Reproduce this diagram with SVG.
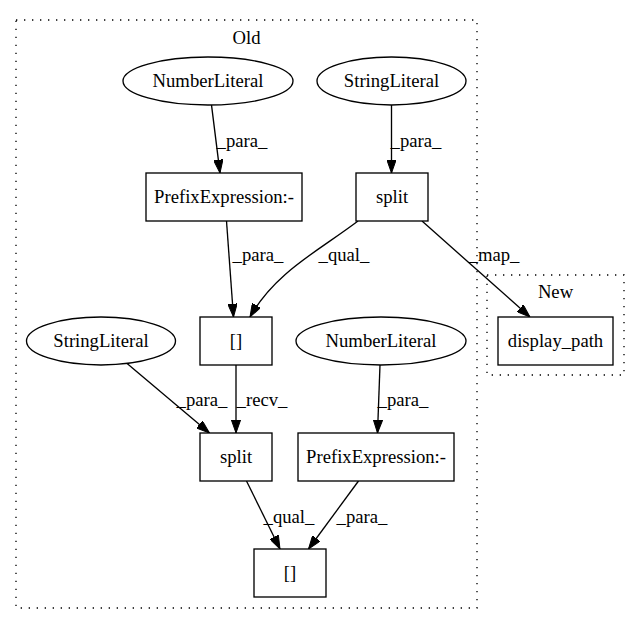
<svg xmlns="http://www.w3.org/2000/svg" width="640" height="624" viewBox="0 0 640 624">
<style>
text{font-family:"Liberation Serif","Times New Roman",serif;font-size:18.67px;fill:#000;text-anchor:middle}
.cl{fill:none;stroke:#000;stroke-width:1.33;stroke-dasharray:1.33 6.67}
.n{fill:#fff;stroke:#000;stroke-width:1.33}
.e{fill:none;stroke:#000;stroke-width:1.33;marker-end:url(#ah)}
</style>
<defs>
<marker id="ah" viewBox="0 0 13.3 9.4" refX="13.3" refY="4.7" markerWidth="13.3" markerHeight="9.4" orient="auto" markerUnits="userSpaceOnUse">
<path d="M0,0 L13.3,4.7 L0,9.4 Z" fill="#000" stroke="#000" stroke-width="1"/>
</marker>
</defs>
<rect width="640" height="624" fill="#fff"/>
<g id="cluster_old">
<rect class="cl" x="16" y="20" width="461" height="588"/>
<text x="246.5" y="44">Old</text>
</g>
<g id="cluster_new">
<rect class="cl" x="487" y="275" width="137" height="100"/>
<text x="555.5" y="298">New</text>
</g>
<g id="connectors">
<path class="e" d="M211.5,105 L220,173"/>
<text x="242" y="147">_para_</text>
<path class="e" d="M391.5,105 L391.5,173"/>
<text x="416" y="147">_para_</text>
<path class="e" d="M226.5,221 L233.5,317"/>
<text x="258" y="261">_para_</text>
<path class="e" d="M358,221 C320,250 275,272 250,317"/>
<text x="344" y="261">_qual_</text>
<path class="e" d="M422,221 L530,317"/>
<text x="494" y="261">_map_</text>
<path class="e" d="M126.5,363 L209.5,433"/>
<text x="202" y="406">_para_</text>
<path class="e" d="M236,365 L236,433"/>
<text x="262" y="406">_recv_</text>
<path class="e" d="M380,365 L377.5,433"/>
<text x="403" y="406">_para_</text>
<path class="e" d="M246.5,481 L280,549"/>
<text x="289" y="523">_qual_</text>
<path class="e" d="M358.5,481 L308.5,549"/>
<text x="362" y="523">_para_</text>
</g>
<g id="n_numlit1">
<ellipse class="n" cx="208" cy="81" rx="85" ry="24"/>
<text x="208" y="87">NumberLiteral</text>
</g>
<g id="n_strlit1">
<ellipse class="n" cx="391.5" cy="81" rx="74.5" ry="24"/>
<text x="391.5" y="87">StringLiteral</text>
</g>
<g id="n_prefix1">
<rect class="n" x="146" y="173" width="156" height="48"/>
<text x="224" y="203">PrefixExpression:-</text>
</g>
<g id="n_split1">
<rect class="n" x="356" y="173" width="72" height="48"/>
<text x="392" y="203">split</text>
</g>
<g id="n_idx1">
<rect class="n" x="200" y="317" width="72" height="48"/>
<text x="236" y="347">[]</text>
</g>
<g id="n_display_path">
<rect class="n" x="498" y="317" width="115" height="48"/>
<text x="555.5" y="347">display_path</text>
</g>
<g id="n_strlit2">
<ellipse class="n" cx="101" cy="341" rx="74.5" ry="24"/>
<text x="101" y="347">StringLiteral</text>
</g>
<g id="n_numlit2">
<ellipse class="n" cx="381" cy="341" rx="85" ry="24"/>
<text x="381" y="347">NumberLiteral</text>
</g>
<g id="n_split2">
<rect class="n" x="200" y="433" width="72" height="48"/>
<text x="236" y="463">split</text>
</g>
<g id="n_prefix2">
<rect class="n" x="298" y="433" width="156" height="48"/>
<text x="376" y="463">PrefixExpression:-</text>
</g>
<g id="n_idx2">
<rect class="n" x="254" y="549" width="72" height="48"/>
<text x="290" y="579">[]</text>
</g>
</svg>
